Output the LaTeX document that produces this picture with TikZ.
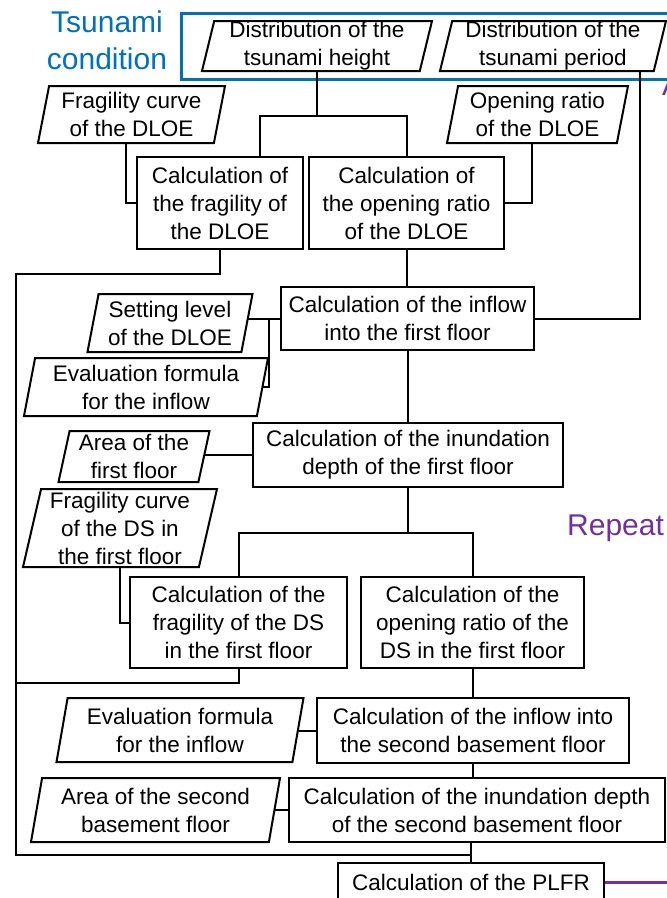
\documentclass[tikz,border=0pt]{standalone}
\usepackage{fontspec}
\setmainfont{Liberation Sans}
\usetikzlibrary{shapes.geometric}
\definecolor{condblue}{RGB}{0,112,192}
\definecolor{looppurple}{RGB}{112,48,160}

\begin{document}
\begin{tikzpicture}[x=1pt,y=-1pt,
  calcbox/.style={rectangle,draw,line width=2pt,align=center,inner sep=0pt,
    font=\fontsize{22.5}{28}\selectfont},
  databox/.style={trapezium,trapezium left angle=76,trapezium right angle=104,
    trapezium stretches body,draw,line width=2pt,align=center,inner sep=0pt,
    font=\fontsize{22.5}{28}\selectfont},
  link/.style={line width=2pt},
  tag/.style={font=\fontsize{30}{37}\selectfont,align=center,inner sep=0pt}]
\useasboundingbox (0,0) rectangle (667,898);

% tsunami condition
\node[tag,text=condblue] (cond) at (107,40) {Tsunami\\condition};
\draw[line width=3pt,condblue] (181,13) rectangle (690,79);
\node[databox,minimum width=230pt,minimum height=50pt] (hgt) at (317,46) {Distribution of the\\tsunami height};
\node[databox,minimum width=226pt,minimum height=50pt] (per) at (553,46) {Distribution of the\\tsunami period};

% inputs
\node[databox,minimum width=187pt,minimum height=57pt] (fcDLOE) at (131.5,114.5) {Fragility curve\\of the DLOE};
\node[databox,minimum width=181pt,minimum height=57pt] (orDLOE) at (537.5,114.5) {Opening ratio\\of the DLOE};
\node[databox,minimum width=165pt,minimum height=58pt] (slv) at (170,323) {Setting level\\of the DLOE};
\node[databox,minimum width=244pt,minimum height=58pt] (ev1) at (146,387) {Evaluation formula\\for the inflow};
\node[databox,minimum width=151pt,minimum height=51pt] (area1) at (134,456.5) {Area of the\\first floor};
\node[databox,minimum width=194pt,minimum height=78pt] (fcDS) at (120,528) {Fragility curve\\of the DS in\\the first floor};
\node[databox,minimum width=247pt,minimum height=64pt] (ev2) at (180,730) {Evaluation formula\\for the inflow};
\node[databox,minimum width=249pt,minimum height=64pt] (area2B) at (155.5,810) {Area of the second\\basement floor};

% calculations
\node[calcbox,minimum width=166pt,minimum height=92pt] (fragDLOE) at (220,203) {Calculation of\\the fragility of\\the DLOE};
\node[calcbox,minimum width=195pt,minimum height=92pt] (openDLOE) at (406.5,203) {Calculation of\\the opening ratio\\of the DLOE};
\node[calcbox,minimum width=253pt,minimum height=63pt] (inflow1) at (407.5,318.5) {Calculation of the inflow\\into the first floor};
\node[calcbox,minimum width=310pt,minimum height=64pt] (inund1) at (408,455) {Calculation of the inundation\\depth of the first floor};
\node[calcbox,minimum width=217pt,minimum height=91pt] (fragDS) at (238.5,622.5) {Calculation of the\\fragility of the DS\\in the first floor};
\node[calcbox,minimum width=223pt,minimum height=91pt] (openDS) at (472.5,622.5) {Calculation of the\\opening ratio of the\\DS in the first floor};
\node[calcbox,minimum width=312pt,minimum height=65pt] (inflow2B) at (473,730.5) {Calculation of the inflow into\\the second basement floor};
\node[calcbox,minimum width=376pt,minimum height=64pt] (inund2B) at (477,810) {Calculation of the inundation depth\\of the second basement floor};
\node[calcbox,minimum width=266pt,minimum height=38pt] (plfr) at (471,882) {Calculation of the PLFR};

% connectors
\draw[link] (hgt.south) -- ++(0,44) coordinate (fk1);
\draw[link] ([xshift=40pt]fragDLOE.north) |- (fk1) -| (openDLOE.north);
\draw[link] ([xshift=87pt]per.south) |- (inflow1.east);
\draw[link] (fcDLOE.bottom side) |- (fragDLOE.west);
\draw[link] (orDLOE.bottom side) |- (openDLOE.east);
\coordinate (lbus) at (16,855);
\draw[link] (fragDLOE.south) -- ++(0,24) -| (lbus) -| (plfr.north);
\draw[link] (openDLOE.south) -- (openDLOE.south |- inflow1.north);
\draw[link] (inflow1.west) -- (inflow1.west -| slv.right side);
\draw[link] (ev1.right side) -| ([xshift=-11pt]inflow1.west);
\draw[link] (inflow1.south) -- (inflow1.south |- inund1.north);
\draw[link] (inund1.west) -- (inund1.west -| area1.right side);
\draw[link] (inund1.south) -- ++(0,45) coordinate (fk2);
\draw[link] (fragDS.north) |- (fk2) -| (openDS.north);
\draw[link] (fcDS.south) |- (fragDS.west);
\draw[link] (fragDS.south) -- ++(0,14) -| (lbus);
\draw[link] (openDS.south) -- (openDS.south |- inflow2B.north);
\draw[link] (inflow2B.west) -- (inflow2B.west -| ev2.right side);
\draw[link] (inflow2B.south) -- (inflow2B.south |- inund2B.north);
\draw[link] (inund2B.west) -- (inund2B.west -| area2B.right side);
\draw[link] (plfr.north) -- (plfr.north |- inund2B.south);

% repeat loop
\coordinate (loopend) at (667,882);
\draw[line width=3pt,looppurple] (plfr.east) -- (loopend);
\node[tag,text=looppurple,anchor=base west] (rep) at (567,535) {Repeat};
\node[tag,text=looppurple,anchor=base west] (again) at (662,95) {A};
\end{tikzpicture}
\end{document}
